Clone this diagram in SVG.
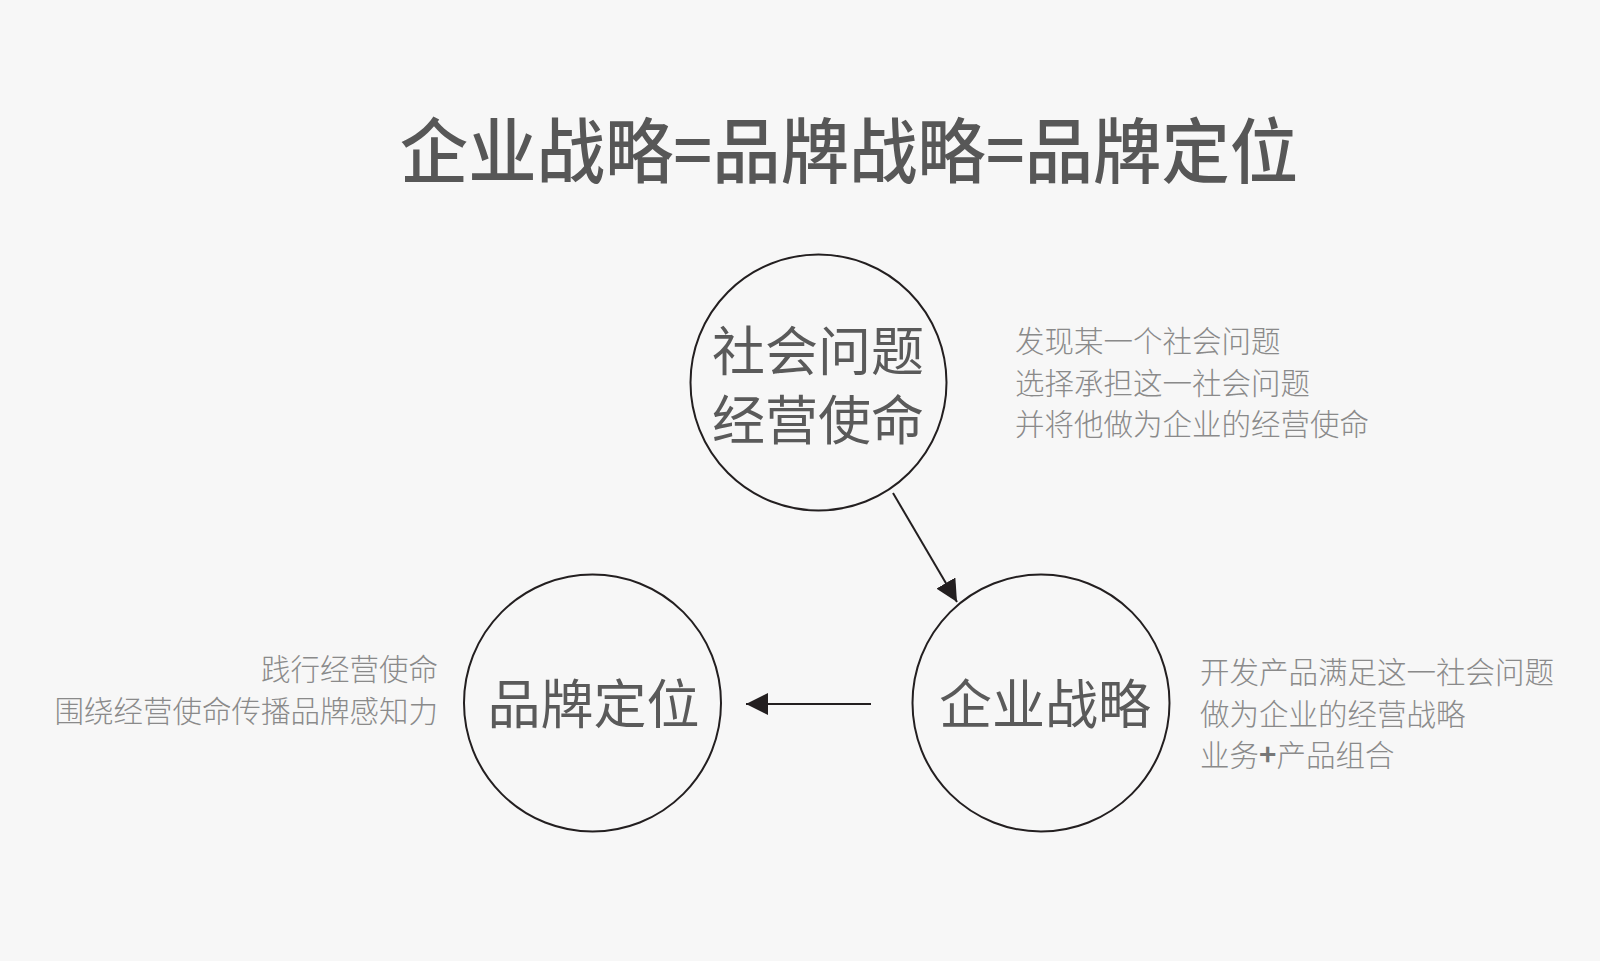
<svg xmlns="http://www.w3.org/2000/svg" width="1600" height="961" viewBox="0 0 1600 961">
<style>
.bg{fill:#f7f7f7}
.title{font-family:"Noto Sans CJK SC","Noto Sans",sans-serif;font-size:71px;font-weight:500;fill:#575757;text-anchor:middle}
.node circle{fill:none;stroke:#231f20;stroke-width:2}
.node text{font-family:"Noto Sans CJK SC","Noto Sans",sans-serif;font-size:53px;fill:#5a5a5a;text-anchor:middle}
.note{font-family:"Noto Sans CJK SC","Noto Sans",sans-serif;font-size:29.5px;font-weight:300;fill:#8a8a8a}
.edge{stroke:#231f20;stroke-width:2;fill:none}
</style>
<defs>
<marker id="arrow" viewBox="0 0 22 22" refX="22" refY="11" markerWidth="22" markerHeight="22" markerUnits="userSpaceOnUse" orient="auto">
<path d="M0,0 L22,11 L0,22 Z" fill="#231f20"/>
</marker>
</defs>
<rect class="bg" x="0" y="0" width="1600" height="961"/>
<text id="title" class="title" x="0" y="177" transform="translate(849,0) scale(0.963,1)">企业战略=品牌战略=品牌定位</text>
<g id="node-social" class="node">
<circle cx="818.5" cy="382.5" r="128"/>
<text x="818" y="371">社会问题</text>
<text x="818" y="440">经营使命</text>
</g>
<g id="node-strategy" class="node">
<circle cx="1041" cy="703" r="128.5"/>
<text x="1045" y="724">企业战略</text>
</g>
<g id="node-brand" class="node">
<circle cx="592.5" cy="703" r="128.5"/>
<text x="593.5" y="724">品牌定位</text>
</g>
<g id="connectors">
<line class="edge" x1="893" y1="493" x2="957" y2="602" marker-end="url(#arrow)"/>
<line class="edge" x1="871" y1="704" x2="746" y2="704" marker-end="url(#arrow)"/>
</g>
<g id="notes">
<text class="note" x="1015" y="352">发现某一个社会问题</text>
<text class="note" x="1015" y="393.5">选择承担这一社会问题</text>
<text class="note" x="1015" y="435">并将他做为企业的经营使命</text>
<text class="note" x="438" y="680" text-anchor="end">践行经营使命</text>
<text class="note" x="438" y="722" text-anchor="end">围绕经营使命传播品牌感知力</text>
<text class="note" x="1200" y="683">开发产品满足这一社会问题</text>
<text class="note" x="1200" y="724.5">做为企业的经营战略</text>
<text class="note" x="1200" y="766">业务<tspan font-weight="700" fill="#777">+</tspan>产品组合</text>
</g>
</svg>
